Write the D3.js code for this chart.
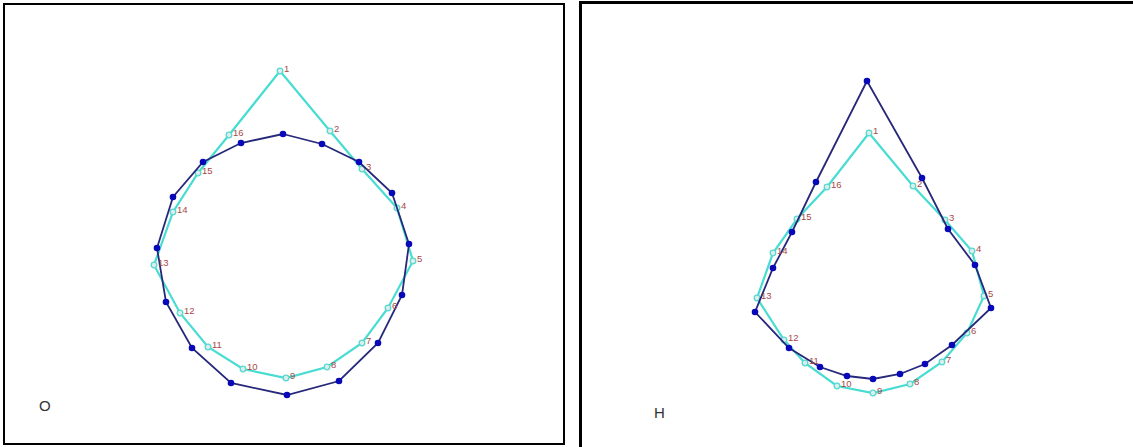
<!DOCTYPE html>
<html><head><meta charset="utf-8">
<script src="https://cdn.jsdelivr.net/npm/d3@7"></script>
<style>body{margin:0;background:#fff}svg{display:block}</style>
</head><body>
<svg id="c" width="1133" height="447"></svg>
<script>
// Panel O (left)
const oFittedX = [0.00,0.39,0.76,1.09,1.26,1.19,0.95,0.56,0.04,-0.52,-0.91,-1.17,-1.26,-1.10,-0.80,-0.42];
const oFittedY = [1.31,1.21,1.03,0.72,0.21,-0.30,-0.78,-1.16,-1.30,-1.18,-0.83,-0.37,0.17,0.68,1.03,1.22];
const oShapeX = [-0.03,0.47,0.79,1.14,1.30,1.05,0.79,0.44,0.03,-0.40,-0.75,-1.03,-1.29,-1.10,-0.85,-0.54];
const oShapeY = [1.94,1.34,0.96,0.57,0.04,-0.43,-0.78,-1.02,-1.13,-1.04,-0.82,-0.48,0.00,0.53,0.92,1.30];
// Panel H (right)
const hFittedX = [-0.06,0.49,0.75,1.02,1.18,0.79,0.52,0.27,0.00,-0.26,-0.53,-0.84,-1.18,-1.00,-0.81,-0.57];
const hFittedY = [1.84,0.87,0.36,0.00,-0.43,-0.80,-0.99,-1.09,-1.14,-1.11,-1.02,-0.83,-0.47,-0.03,0.33,0.83];
const hShapeX = [-0.04,0.40,0.72,0.99,1.11,0.94,0.69,0.37,0.00,-0.36,-0.68,-0.89,-1.16,-1.00,-0.76,-0.46];
const hShapeY = [1.32,0.79,0.45,0.14,-0.31,-0.68,-0.97,-1.19,-1.28,-1.21,-0.98,-0.75,-0.33,0.12,0.46,0.78];
const pointLabels = ["1","2","3","4","5","6","7","8","9","10","11","12","13","14","15","16"];
const panelNames = ["O","H"];

const svg = d3.select("#c");

// frames
svg.append("rect").attr("x",4).attr("y",4).attr("width",560).attr("height",440)
  .attr("fill","none").attr("stroke","#000").attr("stroke-width",2);
svg.append("rect").attr("x",580.5).attr("y",2.5).attr("width",600).attr("height",500)
  .attr("fill","none").attr("stroke","#000").attr("stroke-width",3);

function panel(cx, cy, fx, fy, sx, sy, name, nameX, nameY){
  const x = d3.scaleLinear().domain([-1,1]).range([cx-100, cx+100]);
  const y = d3.scaleLinear().domain([-1,1]).range([cy+100, cy-100]);
  const g = svg.append("g");
  const fitted = fx.map((v,i)=>[v, fy[i]]);
  const shape = sx.map((v,i)=>[v, sy[i], pointLabels[i]]);
  const line = d3.line().x(d=>x(d[0])).y(d=>y(d[1])).curve(d3.curveLinearClosed);
  g.append("path").attr("d", line(shape)).attr("fill","none")
    .attr("stroke","#48dcd2").attr("stroke-width",2.2);
  g.selectAll("circle.sm").data(shape).join("circle").attr("class","sm")
    .attr("cx", d=>x(d[0])).attr("cy", d=>y(d[1])).attr("r",2.8)
    .attr("fill","#dcefed").attr("stroke","#5ad8d0").attr("stroke-width",1.3);
  g.append("path").attr("d", line(fitted)).attr("fill","none")
    .attr("stroke","#26287a").attr("stroke-width",1.8);
  g.selectAll("circle.fm").data(fitted).join("circle").attr("class","fm")
    .attr("cx", d=>x(d[0])).attr("cy", d=>y(d[1])).attr("r",3.3)
    .attr("fill","#0808b8");
  g.selectAll("text.lb").data(shape).join("text").attr("class","lb")
    .attr("x", d=>x(d[0])+4).attr("y", d=>y(d[1])+1)
    .attr("font-family","Liberation Sans, Arial, sans-serif").attr("font-size",9.5)
    .attr("fill","#a84848").text(d=>d[2]);
  svg.append("text").attr("x",nameX).attr("y",nameY)
    .attr("font-family","Liberation Sans, Arial, sans-serif").attr("font-size",15)
    .attr("fill","#333").text(name);
}
panel(283, 265, oFittedX, oFittedY, oShapeX, oShapeY, panelNames[0], 39, 411);
panel(873, 265, hFittedX, hFittedY, hShapeX, hShapeY, panelNames[1], 654, 418);
</script>
</body></html>
